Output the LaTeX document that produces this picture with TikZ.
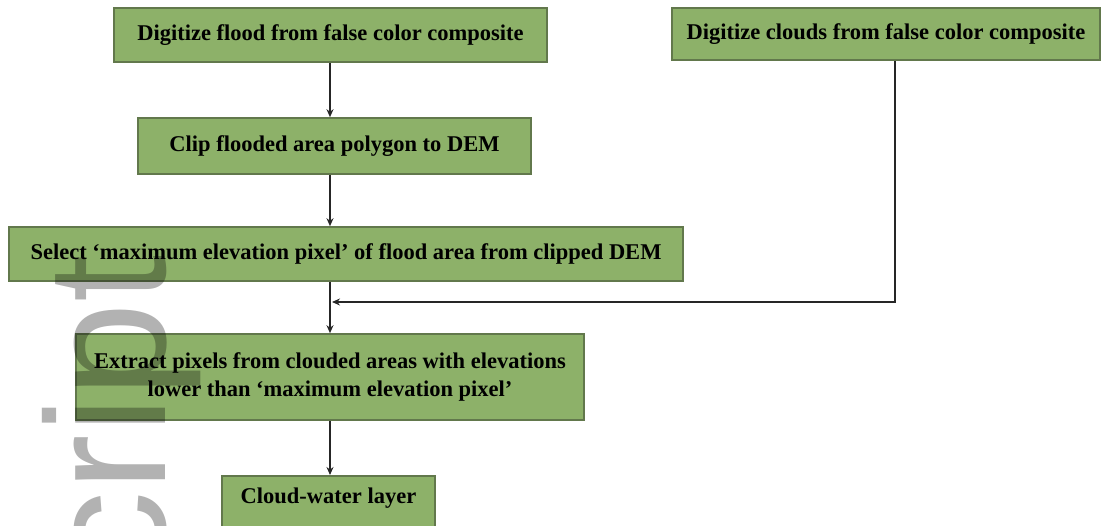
\documentclass[tikz,border=0pt]{standalone}
\usepackage{fontspec}
\setmainfont{Liberation Serif}
\newfontfamily\wmfont{Liberation Sans}
\usetikzlibrary{arrows.meta,calc}
\definecolor{boxfill}{RGB}{141,177,105}
\definecolor{boxedge}{RGB}{98,120,76}
\begin{document}
\begin{tikzpicture}[x=1pt,y=-1pt,
  procbox/.style={draw=boxedge, line width=1.6pt, fill=boxfill,
    font=\bfseries\fontsize{22.5}{28}\selectfont, align=center, inner sep=0pt},
  flow/.style={draw=black!85, line width=1.2pt, -{Stealth[length=8pt,width=7pt]}}]
\useasboundingbox (0,0) rectangle (1103,526);
\clip (0,0) rectangle (1103,526);
\coordinate (ax) at (330,0);
\coordinate (j) at (895,302);
\node[procbox, minimum width=433, minimum height=54] (b1) at (330.5,35) {Digitize flood from false color composite};
\node[procbox, minimum width=428, minimum height=52] (b2) at (886,34) {Digitize clouds from false color composite};
\node[procbox, minimum width=393, minimum height=56] (b3) at (334.5,146) {Clip flooded area polygon to DEM};
\node[procbox, minimum width=674, minimum height=54] (b4) at (346,254) {Select `maximum elevation pixel' of flood area from clipped DEM};
\node[procbox, minimum width=508, minimum height=86] (b5) at (330,377) {Extract pixels from clouded areas with elevations\\lower than `maximum elevation pixel'};
\node[procbox, minimum width=213, anchor=north, text height=28pt, text depth=30pt] (b6) at (328.5,475) {Cloud-water layer};
\draw[flow] (b1.south -| ax) -- (b3.north -| ax);
\draw[flow] (b3.south -| ax) -- (b4.north -| ax);
\draw[flow] (b2.south -| j) -- (j) -- ($(j -| ax)+(2,0)$);
\draw[flow] (b4.south -| ax) -- (b5.north -| ax);
\draw[flow] (b5.south -| ax) -- (b6.north -| ax);
\node[rotate=90, anchor=base east, inner sep=0pt, font=\wmfont\fontsize{170}{170}\selectfont, text=black, text opacity=0.3] (wm) at (165,255) {cript};
\end{tikzpicture}
\end{document}
